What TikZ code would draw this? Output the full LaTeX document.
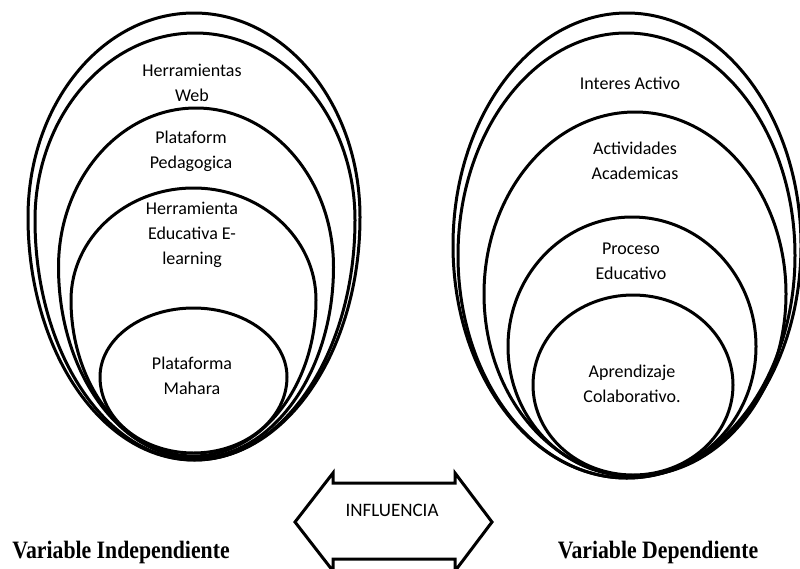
\documentclass[tikz,border=0pt]{standalone}
\usepackage{fontspec}
\setmainfont{Carlito}
\newfontfamily\titlefont{Liberation Serif}
% egg: centre x, widest y, half width, height above, height below
\newcommand{\eggring}[5]{%
    \draw[ring] (#1-#3,#2) arc[start angle=180, end angle=360, x radius=#3, y radius=#4]
        arc[start angle=0, end angle=180, x radius=#3, y radius=#5];}
\tikzset{
    ring/.style={line width=3pt},
    lbl/.style={align=center, inner sep=0pt, font=\fontsize{18}{25}\selectfont},
    varlbl/.style={inner sep=0pt, font=\titlefont\bfseries\fontsize{25}{30}\selectfont}
}
\begin{document}
\begin{tikzpicture}[x=1pt, y=-1pt]
    \useasboundingbox (0,0) rectangle (800,568);
    \clip (0,0) rectangle (800,568);
    % variable independiente
    \eggring{194}{217}{166}{204}{243}
    \eggring{195}{220}{160}{187}{240}
    \eggring{196}{267}{137.5}{159}{191}
    \eggring{193.5}{300}{122.5}{112}{156}
    \eggring{193.5}{377}{93.5}{69}{76}
    \node[lbl] (web) at (192,83) {Herramientas\\Web};
    \node[lbl] (pedag) at (191,151.5) {Plataform\\Pedagogica};
    \node[lbl] (elearn) at (192,235) {Herramienta\\Educativa E-\\learning};
    \node[lbl] (mahara) at (192,376) {Plataforma\\Mahara};
    % variable dependiente
    \draw[ring] (627,245.5) ellipse [x radius=174, y radius=232.5];
    \draw[ring] (626.5,255.5) ellipse [x radius=168.5, y radius=222.5];
    \draw[ring] (635,294) ellipse [x radius=151, y radius=182];
    \draw[ring] (632,346.5) ellipse [x radius=124, y radius=129.5];
    \draw[ring] (633,385) ellipse [x radius=100, y radius=90];
    \node[lbl] (interes) at (630,83) {Interes Activo};
    \node[lbl] (activ) at (635,160.5) {Actividades\\Academicas};
    \node[lbl] (proceso) at (631,261.5) {Proceso\\Educativo};
    \node[lbl] (aprend) at (632,383.5) {Aprendizaje\\Colaborativo.};
    % influencia
    \draw[line width=3pt] (295,522) -- (333,473) -- (333,483) -- (455,483) -- (455,473)
        -- (492,522) -- (455,571) -- (455,559) -- (333,559) -- (333,571) -- cycle;
    \node[lbl, font=\fontsize{19}{24}\selectfont] (infl) at (392,510) {INFLUENCIA};
    \node[varlbl] (indep) at (121,552) {\scalebox{0.87}[1]{Variable Independiente}};
    \node[varlbl] (dep) at (658,552) {\scalebox{0.87}[1]{Variable Dependiente}};
\end{tikzpicture}
\end{document}
